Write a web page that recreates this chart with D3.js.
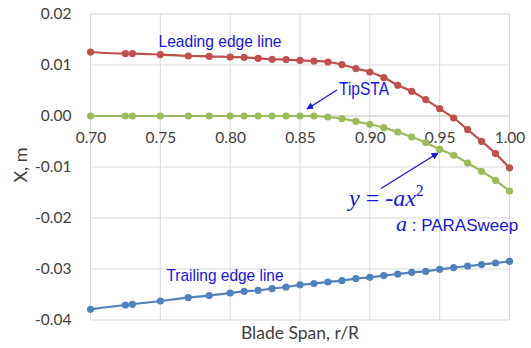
<!DOCTYPE html>
<html>
<head>
<meta charset="utf-8">
<script src="https://cdn.jsdelivr.net/npm/d3@7"></script>
<style>
  body { margin: 0; background: white; }
  svg { display: block; }
</style>
</head>
<body>
<svg id="chart"></svg>
<script>
// blade span stations (r/R)
const span = [0.70, 0.725, 0.73, 0.75, 0.77, 0.785, 0.80, 0.81, 0.82, 0.83, 0.84, 0.85, 0.86, 0.87,
  0.88, 0.89, 0.90, 0.91, 0.92, 0.93, 0.94, 0.95, 0.96, 0.97, 0.98, 0.99, 1.00];

const leadingEdge = [0.01255, 0.01224, 0.01224, 0.01204, 0.01176, 0.01171, 0.01157, 0.01151, 0.01131,
  0.01112, 0.01106, 0.01092, 0.01078, 0.01059, 0.01008, 0.00929, 0.00863, 0.00753, 0.00602, 0.00484,
  0.00322, 0.00145, -0.00039, -0.00267, -0.00496, -0.00737, -0.01016];

const tipSta = [0, 0, 0, 0, 0, 0, 0, 0, 0, 0, 0, 0, 0, -0.0002, -0.00051, -0.00104, -0.00163, -0.00227,
  -0.00314, -0.00412, -0.00522, -0.00653, -0.00771, -0.00922, -0.01084, -0.01261, -0.01471];

const trailingEdge = [-0.0379, -0.03706, -0.03692, -0.03627, -0.03561, -0.03522, -0.03471, -0.03437,
  -0.03418, -0.03384, -0.03353, -0.0331, -0.03286, -0.03255, -0.03227, -0.03188, -0.03163, -0.03129,
  -0.03098, -0.03065, -0.03045, -0.03006, -0.02973, -0.02941, -0.02914, -0.02882, -0.02849];

const xTicks = [0.70, 0.75, 0.80, 0.85, 0.90, 0.95, 1.00];
const yTicks = [-0.04, -0.03, -0.02, -0.01, 0.00, 0.01, 0.02];

const seriesColors = ["#c0504d", "#9bbb59", "#4f81bd"];

let width = 531;
let height = 348;
let font_family = "Lato, 'Open Sans', sans-serif";
let narrow_family = "'Liberation Sans Narrow', 'Arial Narrow', 'Liberation Sans', sans-serif";
let serif_family = "'Liberation Serif', 'DejaVu Serif', serif";
let note_color = "#1515e6";

const locale = d3.formatLocale({decimal: ".", thousands: ",", grouping: [3], currency: ["", ""], minus: "-"});
const fmt = locale.format(".2f");

let svg = d3.select("#chart")
  .attr("width", width)
  .attr("height", height)
  .style("background-color", "white");

let x = d3.scaleLinear().domain([0.70, 1.00]).range([90.5, 509.5]);
let y = d3.scaleLinear().domain([-0.04, 0.02]).range([320, 14]);

// gridlines
svg.append("g")
  .selectAll("line")
  .data(xTicks)
  .join("line")
  .attr("x1", d => x(d)).attr("x2", d => x(d))
  .attr("y1", y(0.02)).attr("y2", y(-0.04))
  .attr("stroke", "#d9d9d9")
  .attr("stroke-width", 1);

svg.append("g")
  .selectAll("line")
  .data(yTicks)
  .join("line")
  .attr("x1", x(0.70)).attr("x2", x(1.00))
  .attr("y1", d => y(d)).attr("y2", d => y(d))
  .attr("stroke", d => d === 0 ? "#bfbfbf" : "#d9d9d9")
  .attr("stroke-width", 1);

// y axis labels
let yAxis = d3.axisLeft(y).tickValues(yTicks).tickFormat(fmt).tickSize(0).tickPadding(19);
svg.append("g")
  .attr("transform", "translate(" + x(0.70) + ",0)")
  .call(yAxis)
  .call(g => g.select(".domain").remove())
  .selectAll("text")
  .attr("font-family", font_family)
  .attr("font-size", "15.5px")
  .attr("fill", "#404040");

// x axis labels sit under the zero line
let xAxis = d3.axisBottom(x).tickValues(xTicks).tickFormat(fmt).tickSize(0).tickPadding(16);
svg.append("g")
  .attr("transform", "translate(0," + y(0) + ")")
  .call(xAxis)
  .call(g => g.select(".domain").remove())
  .selectAll("text")
  .attr("font-family", font_family)
  .attr("font-size", "15.5px")
  .attr("fill", "#404040");

// axis titles
svg.append("text")
  .attr("x", 300)
  .attr("y", 339)
  .attr("text-anchor", "middle")
  .attr("font-family", font_family)
  .attr("font-size", "17.5px")
  .attr("fill", "#404040")
  .text("Blade Span, r/R");

svg.append("text")
  .attr("transform", "translate(27,165) rotate(-90)")
  .attr("text-anchor", "middle")
  .attr("font-family", font_family)
  .attr("font-size", "18px")
  .attr("fill", "#404040")
  .text("X, m");

// series
const series = [leadingEdge, tipSta, trailingEdge];
let line = d3.line().x(d => x(d[0])).y(d => y(d[1])).curve(d3.curveMonotoneX);

series.forEach((vals, i) => {
  let pts = span.map((s, j) => [s, vals[j]]);
  svg.append("path")
    .datum(pts)
    .attr("d", line)
    .attr("fill", "none")
    .attr("stroke", seriesColors[i])
    .attr("stroke-width", 2.2);
  svg.append("g")
    .selectAll("circle")
    .data(pts)
    .join("circle")
    .attr("cx", d => x(d[0]))
    .attr("cy", d => y(d[1]))
    .attr("r", 3.6)
    .attr("fill", seriesColors[i]);
});

// annotations
function note(tx, ty, str, len, size) {
  svg.append("text")
    .attr("x", tx)
    .attr("y", ty)
    .attr("font-family", narrow_family)
    .attr("font-size", size + "px")
    .attr("fill", note_color)
    .attr("textLength", len)
    .attr("lengthAdjust", "spacingAndGlyphs")
    .text(str);
}

note(158.5, 47, "Leading edge line", 123, 17);
note(339, 95, "TipSTA", 50, 18);
note(166.5, 280.5, "Trailing edge line", 117, 17);

svg.append("defs").append("marker")
  .attr("id", "arrow")
  .attr("viewBox", "0 0 10 10")
  .attr("refX", 9).attr("refY", 5)
  .attr("markerWidth", 7).attr("markerHeight", 7)
  .attr("markerUnits", "userSpaceOnUse")
  .attr("orient", "auto")
  .append("path")
  .attr("d", "M0,0 L10,5 L0,10 Z")
  .attr("fill", note_color);

svg.append("line")
  .attr("x1", 337).attr("y1", 90)
  .attr("x2", 307).attr("y2", 109)
  .attr("stroke", note_color).attr("stroke-width", 1.3)
  .attr("marker-end", "url(#arrow)");

svg.append("line")
  .attr("x1", 381).attr("y1", 188.5)
  .attr("x2", 438).attr("y2", 153)
  .attr("stroke", note_color).attr("stroke-width", 1.3)
  .attr("marker-end", "url(#arrow)");

// formula
let formula = svg.append("text")
  .attr("x", 349)
  .attr("y", 206)
  .attr("font-family", serif_family)
  .attr("font-size", "24px")
  .attr("fill", note_color);
formula.append("tspan").attr("font-style", "italic").text("y");
formula.append("tspan").text(" = ");
formula.append("tspan").attr("font-style", "italic").text("-ax");
formula.append("tspan").attr("font-size", "16px").attr("dy", -10).text("2");

let param = svg.append("text")
  .attr("x", 396)
  .attr("y", 231)
  .attr("fill", note_color);
param.append("tspan")
  .attr("font-family", serif_family)
  .attr("font-style", "italic")
  .attr("font-size", "22px")
  .text("a");
param.append("tspan")
  .attr("font-family", narrow_family)
  .attr("font-size", "17px")
  .text(" : PARASweep");
</script>
</body>
</html>
